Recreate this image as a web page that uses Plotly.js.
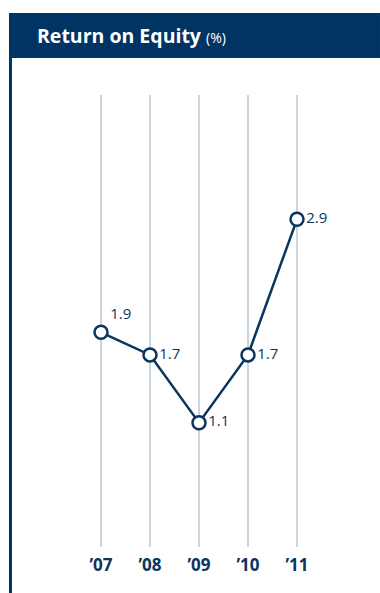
<!DOCTYPE html>
<html>
<head>
<meta charset="utf-8">
<script src="https://cdn.plot.ly/plotly-3.0.1.min.js"></script>
<style>html,body{margin:0;padding:0;background:#fff;}#chart{width:380px;height:593px;}</style>
</head>
<body>
<div id="chart"></div>
<script>
var years = ["’07", "’08", "’09", "’10", "’11"];
var roe = [1.9, 1.7, 1.1, 1.7, 2.9];
var labels = ["1.9", "1.7", "1.1", "1.7", "2.9"];
var labelPos = ["top right", "middle right", "middle right", "middle right", "middle right"];

var navy = "#0b3560";
var trace = {
  x: years,
  y: roe,
  type: "scatter",
  mode: "lines+markers+text",
  text: labels,
  textposition: labelPos,
  textfont: {family: "Open Sans, sans-serif", size: 15, color: navy},
  line: {color: navy, width: 2.5},
  marker: {size: 13, color: "#ffffff", line: {color: navy, width: 2.5}},
  cliponaxis: false,
  hoverinfo: "none"
};

var layout = {
  width: 380, height: 593,
  margin: {l: 52, r: 34, t: 95, b: 46},
  paper_bgcolor: "#ffffff",
  plot_bgcolor: "#ffffff",
  showlegend: false,
  xaxis: {
    type: "category",
    range: [-1, 5],
    showgrid: true, gridcolor: "#c9d5e0", gridwidth: 2,
    zeroline: false, showline: false, ticks: "",
    ticklabelstandoff: 6,
    tickfont: {family: "Open Sans, sans-serif", size: 17, color: navy, weight: "bold"},
    fixedrange: true
  },
  yaxis: {
    range: [0, 4],
    showgrid: false, zeroline: false, showline: false,
    showticklabels: false, ticks: "", fixedrange: true
  },
  shapes: [
    {type: "rect", xref: "paper", yref: "paper", x0: -0.1463, x1: 1.1156, y0: 1.0819, y1: 1.1814, fillcolor: "#003462", line: {width: 0}, layer: "below"},
    {type: "rect", xref: "paper", yref: "paper", x0: -0.1463, x1: -0.1361, y0: -0.1018, y1: 1.0819, fillcolor: "#003462", line: {width: 0}, layer: "below"}
  ],
  annotations: [
    {xref: "paper", yref: "paper", x: -0.0578, y: 1.1327, xanchor: "left", yanchor: "middle", showarrow: false,
     text: "<b>Return on Equity</b> <span style='font-size:14px'>(%)</span>",
     font: {family: "Open Sans, sans-serif", size: 19.5, color: "#ffffff"}}
  ]
};

Plotly.newPlot("chart", [trace], layout, {displayModeBar: false, staticPlot: true});
</script>
</body>
</html>
